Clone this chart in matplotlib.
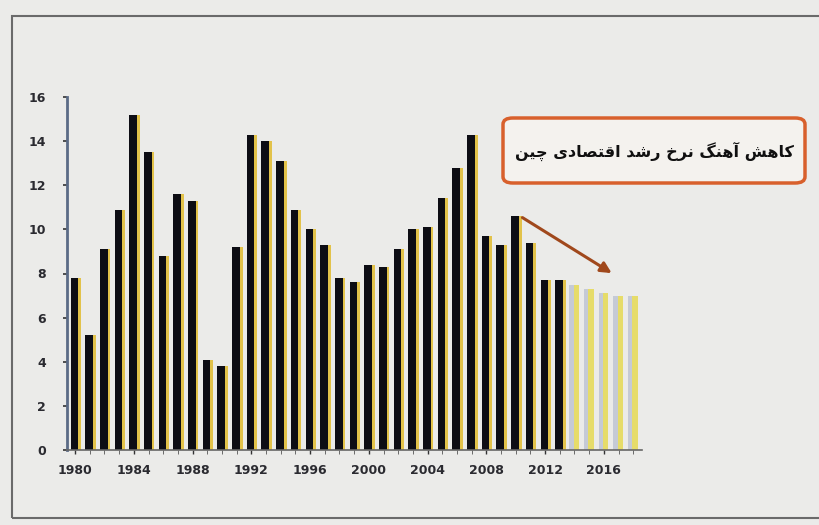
import matplotlib
matplotlib.use("Agg")
import matplotlib.pyplot as plt
from matplotlib.patches import Rectangle, FancyBboxPatch

# رشد اقتصادی چین (درصد)
years = list(range(1980, 2019))
growth = [7.8, 5.2, 9.1, 10.9, 15.2, 13.5, 8.8, 11.6, 11.3, 4.1,
          3.8, 9.2, 14.3, 14.0, 13.1, 10.9, 10.0, 9.3, 7.8, 7.6,
          8.4, 8.3, 9.1, 10.0, 10.1, 11.4, 12.8, 14.3, 9.7, 9.3,
          10.6, 9.4, 7.7, 7.7, 7.5, 7.3, 7.1, 7.0, 7.0]
first_forecast = 2014
xtick_years = list(range(1980, 2017, 4))
yticks = list(range(0, 17, 2))
title = "کاهش آهنگ نرخ رشد اقتصادی چین"

# matplotlib has no Arabic shaping: use presentation forms (iso, fin, ini, med)
forms = {
    "ک": ("\uFB8E", "\uFB8F", "\uFB90", "\uFB91"),
    "ا": ("\uFE8D", "\uFE8E", None, None),
    "آ": ("\uFE81", "\uFE82", None, None),
    "ه": ("\uFEE9", "\uFEEA", "\uFEEB", "\uFEEC"),
    "ش": ("\uFEB5", "\uFEB6", "\uFEB7", "\uFEB8"),
    "ن": ("\uFEE5", "\uFEE6", "\uFEE7", "\uFEE8"),
    "گ": ("\uFB92", "\uFB93", "\uFB94", "\uFB95"),
    "ر": ("\uFEAD", "\uFEAE", None, None),
    "خ": ("\uFEA5", "\uFEA6", "\uFEA7", "\uFEA8"),
    "د": ("\uFEA9", "\uFEAA", None, None),
    "ق": ("\uFED5", "\uFED6", "\uFED7", "\uFED8"),
    "ت": ("\uFE95", "\uFE96", "\uFE97", "\uFE98"),
    "ص": ("\uFEB9", "\uFEBA", "\uFEBB", "\uFEBC"),
    "ی": ("\uFBFC", "\uFBFD", "\uFBFE", "\uFBFF"),
    "چ": ("\uFB7A", "\uFB7B", "\uFB7C", "\uFB7D"),
}

def shape(text):
    out = []
    for i, ch in enumerate(text):
        if ch not in forms:
            out.append(ch)
            continue
        prev = text[i - 1] if i > 0 else " "
        nxt = text[i + 1] if i + 1 < len(text) else " "
        join_prev = prev in forms and forms[prev][2] is not None
        join_next = nxt in forms and forms[ch][2] is not None
        iso, fin, ini, med = forms[ch]
        if join_prev and join_next:
            out.append(med)
        elif join_prev:
            out.append(fin)
        elif join_next:
            out.append(ini)
        else:
            out.append(iso)
    return "".join(out)[::-1]

W, H = 819, 525
fig = plt.figure(figsize=(W / 100, H / 100), dpi=100, facecolor="#ebebe9")
fig.patches.append(Rectangle((12 / W, 7 / H), 1.0, 502 / H, transform=fig.transFigure,
                             fill=False, edgecolor="#6a6a6a", linewidth=1.5))
ax = fig.add_axes([67 / W, 75 / H, 575 / W, 353 / H])
ax.set_facecolor("#ebebe9")

for y, g in zip(years, growth):
    if y < first_forecast:
        ax.bar(y + 0.05, g, width=0.7, color="#e2c24a", align="center")
        ax.bar(y - 0.05, g, width=0.52, color="#0d0d14", align="center")
    else:
        ax.bar(y + 0.12, g, width=0.36, color="#e6dc6a", align="center")
        ax.bar(y - 0.2, g, width=0.3, color="#c5cad6", align="center")

ax.set_xlim(1979.45, 2018.6)
ax.set_ylim(0, 16)
ax.set_yticks(yticks)
ax.set_xticks(xtick_years)
ax.set_xticks(years, minor=True)
ax.tick_params(axis="y", labelsize=9, colors="#333333", length=3, width=1.2, pad=12)
ax.tick_params(axis="x", labelsize=9, colors="#333333", length=3, width=1, pad=7)
ax.tick_params(axis="x", which="minor", length=3, color="#555555")
for lab in ax.get_xticklabels() + ax.get_yticklabels():
    lab.set_fontweight("bold")
    lab.set_color("#2a2a30")
for s in ["top", "right"]:
    ax.spines[s].set_visible(False)
ax.spines["left"].set_color("#5b6b86")
ax.spines["left"].set_linewidth(2)
ax.spines["bottom"].set_color("#666666")
ax.spines["bottom"].set_linewidth(1.2)

ax.annotate("", xy=(2016.7, 7.95), xytext=(2010.3, 10.6),
            arrowprops=dict(arrowstyle="-|>", color="#a0481c", lw=2.2,
                            mutation_scale=16))

# title box
fig.patches.append(FancyBboxPatch((503 / W, 1 - 183 / H), 302 / W, 65 / H,
                                  boxstyle="round,pad=0,rounding_size=0.012",
                                  transform=fig.transFigure, facecolor="#f4f2ee",
                                  edgecolor="#d8602c", linewidth=2.5))
fig.text(654 / W, 1 - 151 / H, shape(title), fontsize=11.5, fontweight="bold",
         family="DejaVu Sans", ha="center", va="center", color="#101010")

fig.savefig("out.png", dpi=100, facecolor=fig.get_facecolor())
